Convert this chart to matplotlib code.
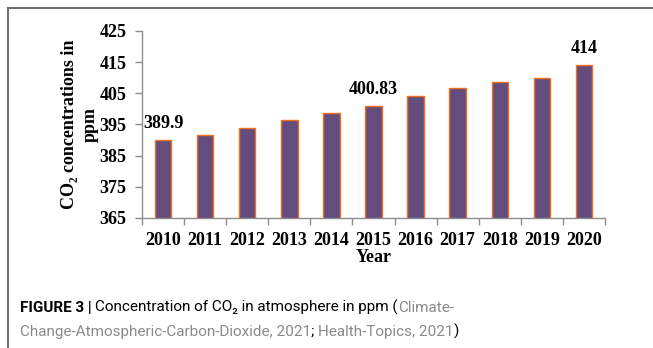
import matplotlib
matplotlib.use('Agg')
import matplotlib.pyplot as plt
from matplotlib.lines import Line2D

years = ['2010', '2011', '2012', '2013', '2014', '2015', '2016', '2017', '2018', '2019', '2020']
co2 = [389.9, 391.6, 393.8, 396.6, 398.6, 400.83, 404.3, 406.6, 408.6, 409.8, 414.0]
labelled = {0: '389.9', 5: '400.83', 10: '414'}
yticks = [365, 375, 385, 395, 405, 415, 425]

W, H = 653, 348
fig = plt.figure(figsize=(W / 100, H / 100), dpi=100)
ax = fig.add_axes([142 / W, 1 - 218 / H, (605 - 142) / W, (218 - 31) / H])

serif = ['Liberation Serif', 'DejaVu Serif']
fs = 13
x = list(range(len(years)))
ax.bar(x, co2, width=0.39, bottom=0, color='#644c7c', edgecolor='#f07020', linewidth=1.0)
ax.set_xlim(-0.5, len(years) - 0.5)
ax.set_ylim(365, 425)
ax.set_yticks(yticks)
ax.set_yticklabels([str(t) for t in yticks], fontfamily=serif, fontweight='bold', fontsize=fs)
ax.set_xticks(x)
ax.set_xticklabels(years, fontfamily=serif, fontweight='bold', fontsize=fs)
ax.set_xticks([i + 0.5 for i in range(-1, len(years))], minor=True)
ax.tick_params(axis='x', which='major', length=0, pad=10)
ax.tick_params(axis='x', which='minor', length=5, color='#8c8c8c', width=1)
ax.tick_params(axis='y', length=5, color='#8c8c8c', width=1, pad=6)
for s in ['top', 'right']:
    ax.spines[s].set_visible(False)
for s in ['left', 'bottom']:
    ax.spines[s].set_color('#8c8c8c')
    ax.spines[s].set_linewidth(1)

for i, txt in labelled.items():
    ax.annotate(txt, (i, co2[i]), xytext=(0, 6), textcoords='offset points',
                ha='center', va='bottom', fontfamily=serif, fontweight='bold', fontsize=fs)

ax.set_xlabel('Year', fontfamily=serif, fontweight='bold', fontsize=fs, labelpad=0)
ax.set_ylabel('CO\u2082 concentrations in\nppm', fontfamily=serif, fontweight='bold',
              fontsize=fs, linespacing=1.3)
ax.yaxis.set_label_coords(-0.094, 0.5)

# frame lines around figure panel
fig.add_artist(Line2D([8 / W, 8 / W], [0, 1 - 8 / H], color='#707070', lw=1.5, transform=fig.transFigure))
fig.add_artist(Line2D([8 / W, 1], [1 - 8 / H, 1 - 8 / H], color='#707070', lw=1.5, transform=fig.transFigure))

# caption, built from pieces
cap_font = ['Roboto', 'DejaVu Sans']
gray = '#8a8a8a'
line1 = [('FIGURE 3 | ', 'black', 'bold'), ('Concentration of CO\u2082 in atmosphere in ppm (', 'black', 'normal'),
         ('Climate-', gray, 'normal')]
line2 = [('Change-Atmospheric-Carbon-Dioxide, 2021', gray, 'normal'), ('; ', 'black', 'normal'),
         ('Health-Topics, 2021', gray, 'normal'), (')', 'black', 'normal')]
fig.canvas.draw()
renderer = fig.canvas.get_renderer()


def draw_line(pieces, ypix, size, x0=20):
    xpix = x0
    made = []
    for s, c, w in pieces:
        t = fig.text(xpix / W, 1 - ypix / H, s, color=c, fontweight=w, fontsize=size,
                     family=cap_font, ha='left', va='baseline')
        xpix += t.get_window_extent(renderer).width
        made.append(t)
    return made, xpix


# fit the first caption line to about the width it takes in the reference
cap_size = 12.0
tmp, end = draw_line(line1, 312, cap_size)
for t in tmp:
    t.remove()
cap_size = cap_size * (455 - 20) / (end - 20)
draw_line(line1, 312, cap_size)
draw_line(line2, 336, cap_size)

fig.savefig('out.png', dpi=100)
